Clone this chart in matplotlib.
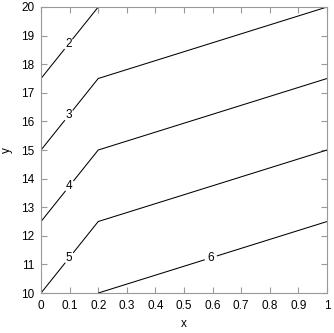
import numpy as np
import matplotlib
matplotlib.use('Agg')
import matplotlib.pyplot as plt

# grid and values of the surface
x = [0, 0.2, 1]
y = [10, 20]
z = [[5, 6, 7],
     [1, 2, 3]]
levels = [2, 3, 4, 5, 6]
label_pos = [(0.1, 18.67), (0.1, 16.19), (0.1, 13.74), (0.1, 11.22), (0.594, 11.22)]

plt.rcParams['font.family'] = ['Liberation Sans', 'DejaVu Sans']

fig = plt.figure(figsize=(3.34, 3.33), dpi=100)
ax = fig.add_axes([0.1228, 0.120, 0.8563, 0.859])

cs = ax.contour(x, y, np.array(z), levels=levels, colors='black', linewidths=0.75)
labels = ax.clabel(cs, fmt='%d', fontsize=8.5, inline=True, inline_spacing=3, manual=label_pos)
for t in labels:
    t.set_rotation(0)

ax.set_xlim(0, 1)
ax.set_ylim(10, 20)
ax.set_xticks(np.arange(0, 1.01, 0.1))
ax.set_xticklabels(['0', '0.1', '0.2', '0.3', '0.4', '0.5', '0.6', '0.7', '0.8', '0.9', '1'])
ax.set_yticks(range(10, 21))
ax.tick_params(direction='in', length=4, width=0.8, color='#999999', labelsize=8.5,
               top=True, right=True, pad=5)
for s in ax.spines.values():
    s.set_color('#999999')
    s.set_linewidth(0.8)

ax.set_xlabel('x', fontsize=8.5, labelpad=4)
ax.set_ylabel('y', fontsize=8.5, labelpad=6)

fig.savefig('out.png', dpi=100)
